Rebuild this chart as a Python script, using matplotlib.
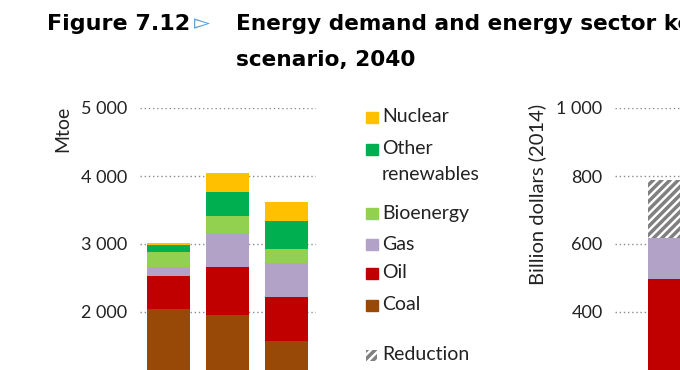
import matplotlib.pyplot as plt
from matplotlib.patches import Rectangle

plt.rcParams['font.family'] = ['Lato', 'DejaVu Sans']
plt.rcParams['hatch.linewidth'] = 2.5

# left panel: energy demand (Mtoe)
cases = ["A", "B", "C"]
coal = [2040, 1950, 1570]
oil = [490, 710, 650]
gas = [130, 480, 500]
bio = [220, 270, 205]
other = [110, 355, 415]
nuclear = [25, 285, 280]
colors = ["#984807", "#c00000", "#b3a2c7", "#92d050", "#00b050", "#ffc000"]

# right panel: billion dollars (2014)
bill_oil = [497]
bill_gas = [120]
bill_reduction = [171]

legend_labels = ["Nuclear", "Other", "Bioenergy", "Gas", "Oil", "Coal"]
legend_colors = ["#ffc000", "#00b050", "#92d050", "#b3a2c7", "#c00000", "#984807"]

W, H = 680, 370
fig = plt.figure(figsize=(6.8, 3.7), dpi=100)

def fx(x):
  return x / W

def fy(y):
  return 1 - y / H

def style(ax, lo, top, step):
  ax.set_ylim(0, top)
  ticks = list(range(lo, top + 1, step))
  ax.set_yticks(ticks)
  ax.set_yticklabels([f"{v:,}".replace(",", " ") for v in ticks])
  ax.tick_params(axis="y", length=0, pad=9, labelsize=13, labelcolor="#222222")
  ax.tick_params(axis="x", length=0, labelbottom=False)
  for s in ax.spines.values():
    s.set_visible(False)
  ax.yaxis.grid(True, linestyle=(0, (1, 2)), color="#8c8c8c", linewidth=1)
  ax.set_axisbelow(True)

ax1 = fig.add_axes([fx(140), fy(448), fx(316) - fx(140), fy(108) - fy(448)])
style(ax1, 2000, 5000, 1000)
ax1.set_xlim(-0.49, 2.5)
x = range(len(cases))
bottom = [0, 0, 0]
for vals, c in zip([coal, oil, gas, bio, other, nuclear], colors):
  ax1.bar(x, vals, width=0.73, bottom=bottom, color=c, zorder=2)
  bottom = [b + v for b, v in zip(bottom, vals)]

ax2 = fig.add_axes([fx(615), fy(448), fx(800) - fx(615), fy(108) - fy(448)])
style(ax2, 400, 1000, 200)
ax2.set_xlim(-0.93, 2.22)
ax2.bar([0], bill_oil, width=0.73, color="#c00000", zorder=2)
ax2.bar([0], bill_gas, width=0.73, bottom=bill_oil, color="#b3a2c7", zorder=2)
ax2.bar([0], bill_reduction, width=0.73, bottom=[bill_oil[0] + bill_gas[0]],
        color="white", edgecolor="#808080", hatch="////", linewidth=0, zorder=2)

fig.text(fx(63), fy(106), "Mtoe", rotation=90, ha="center", va="top",
         fontsize=14, color="#222222")
fig.text(fx(537), fy(104), "Billion dollars (2014)", rotation=90, ha="center",
         va="top", fontsize=14.5, color="#222222")

# legend
leg_y = [117, 149, 213, 244, 273, 305]
for lab, c, y in zip(legend_labels, legend_colors, leg_y):
  fig.add_artist(Rectangle((fx(366), fy(y + 6)), 12 / W, 11 / H,
                           transform=fig.transFigure, color=c))
  fig.text(fx(382), fy(y), lab, ha="left", va="center", fontsize=14, color="#222222")
fig.text(fx(382), fy(174), "renewables", ha="left", va="center", fontsize=14,
         color="#222222")
fig.add_artist(Rectangle((fx(366), fy(361)), 11 / W, 11 / H, transform=fig.transFigure,
                         facecolor="white", edgecolor="#808080", hatch="////",
                         linewidth=0))
fig.text(fx(382), fy(355), "Reduction", ha="left", va="center", fontsize=14,
         color="#222222")

# title
fig.text(fx(47), fy(30), "Figure 7.12", ha="left", va="baseline", fontsize=16,
         fontweight="bold", family="DejaVu Sans", color="black")
fig.text(fx(194), fy(29), "\u25bb", ha="left", va="baseline", fontsize=15,
         family="DejaVu Sans", color="#4f9fd8")
fig.text(fx(236), fy(30), "Energy demand and energy sector key", ha="left",
         va="baseline", fontsize=15.6, fontweight="bold", family="DejaVu Sans",
         color="black")
fig.text(fx(236), fy(66), "scenario, 2040", ha="left", va="baseline", fontsize=15.6,
         fontweight="bold", family="DejaVu Sans", color="black")

fig.savefig("out.png", dpi=100)
